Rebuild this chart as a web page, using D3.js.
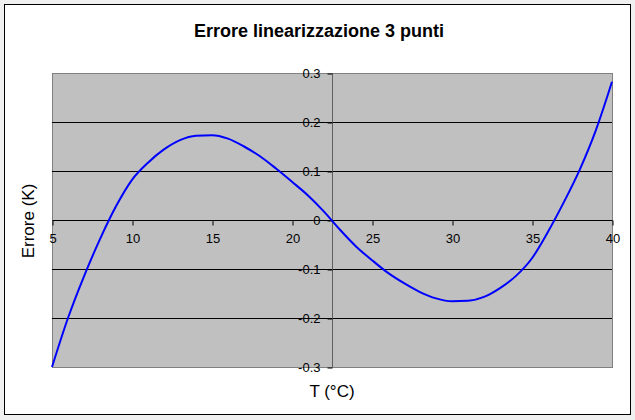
<!DOCTYPE html>
<html>
<head>
<meta charset="utf-8">
<script src="https://cdn.jsdelivr.net/npm/d3@7"></script>
<style>
  html, body { margin: 0; padding: 0; background: #ffffff; }
  svg { display: block; }
  text { font-family: "Liberation Sans", Arial, sans-serif; }
</style>
</head>
<body>
<script>
const title = "Errore linearizzazione 3 punti";
const xLabel = "T (°C)";
const yLabel = "Errore (K)";
const temperature = [5, 6, 7, 8, 9, 10, 11, 12, 13, 14, 15, 16, 17, 18, 19, 20, 21, 22, 23, 24, 25, 26, 27, 28, 29, 30, 31, 32, 33, 34, 35, 36, 37, 38, 39, 40];
const errore = [-0.300, -0.200, -0.115, -0.039, 0.028, 0.082, 0.117, 0.144, 0.163, 0.172, 0.173, 0.166, 0.150, 0.130, 0.105, 0.078, 0.050, 0.017, -0.020, -0.054, -0.082, -0.108, -0.129, -0.147, -0.160, -0.166, -0.165, -0.157, -0.139, -0.114, -0.078, -0.024, 0.037, 0.104, 0.184, 0.282];
const xTicks = [5, 10, 15, 20, 25, 30, 35, 40];
const yTicks = [-0.3, -0.2, -0.1, 0, 0.1, 0.2, 0.3];
const yCrossX = 22.5;

const W = 635, H = 420;
const svg = d3.select("body").append("svg").attr("width", W).attr("height", H);

// outer frame
svg.append("rect").attr("x", 0).attr("y", 0).attr("width", W).attr("height", H).attr("fill", "#f0f0f0");
svg.append("rect").attr("x", 4.5).attr("y", 4.5).attr("width", 626).attr("height", 410)
  .attr("fill", "#ffffff").attr("stroke", "#000").attr("stroke-width", 1);

const plot = {left: 52, right: 612, top: 73, bottom: 367};
const x = d3.scaleLinear().domain([5, 40]).range([plot.left, plot.right]);
const y = d3.scaleLinear().domain([-0.3, 0.3]).range([plot.bottom, plot.top]);

// plot background
svg.append("rect").attr("x", plot.left + 0.5).attr("y", plot.top + 0.5)
  .attr("width", plot.right - plot.left).attr("height", plot.bottom - plot.top)
  .attr("fill", "#c0c0c0").attr("stroke", "#808080").attr("stroke-width", 1);

// gridlines
svg.append("g").selectAll("line").data(yTicks.filter(t => t !== 0 && Math.abs(t) < 0.3))
  .join("line")
  .attr("x1", plot.left).attr("x2", plot.right)
  .attr("y1", d => Math.round(y(d)) + 0.5).attr("y2", d => Math.round(y(d)) + 0.5)
  .attr("stroke", "#000").attr("stroke-width", 1);

// x axis at y=0
const xAxis = d3.axisBottom(x).tickValues(xTicks).tickSize(5).tickPadding(8).tickFormat(d3.format("d"));
const gx = svg.append("g").attr("transform", `translate(0.5,${Math.round(y(0)) + 0.5})`).call(xAxis);
gx.select(".domain").attr("stroke", "#000").attr("d", `M${plot.left},0H${plot.right}`);
gx.selectAll(".tick line").attr("stroke", "#000");
gx.selectAll(".tick text").attr("font-size", 13).attr("fill", "#000")
  .attr("font-family", "'Liberation Sans', Arial, sans-serif");

// y axis at x=22.5
const fmtY = d => d === 0 ? "0" : d3.format(".1f")(d).replace("\u2212", "-");
const yAxis = d3.axisLeft(y).tickValues(yTicks).tickSize(5).tickPadding(7).tickFormat(fmtY);
const gy = svg.append("g").attr("transform", `translate(${Math.round(x(yCrossX)) + 0.5},0.5)`).call(yAxis);
gy.select(".domain").attr("stroke", "#606060").attr("d", `M0,${plot.top}V${plot.bottom}`);
gy.selectAll(".tick line").attr("stroke", "#000");
gy.selectAll(".tick text").attr("font-size", 13).attr("fill", "#000")
  .attr("font-family", "'Liberation Sans', Arial, sans-serif");

// curve
const pts = temperature.map((t, i) => [t, errore[i]]);
svg.append("path").datum(pts)
  .attr("fill", "none").attr("stroke", "#0000ff").attr("stroke-width", 2)
  .attr("stroke-linejoin", "round")
  .attr("d", d3.line().x(d => x(d[0])).y(d => y(d[1])).curve(d3.curveMonotoneX));

// titles
svg.append("text").attr("x", 319).attr("y", 37).attr("text-anchor", "middle")
  .attr("font-size", 18).attr("font-weight", "bold").attr("fill", "#000").text(title);
svg.append("text").attr("x", 332).attr("y", 397).attr("text-anchor", "middle")
  .attr("font-size", 17).attr("fill", "#000").text(xLabel);
svg.append("text").attr("transform", "translate(34,221) rotate(-90)").attr("text-anchor", "middle")
  .attr("font-size", 17).attr("fill", "#000").text(yLabel);
</script>
</body>
</html>
